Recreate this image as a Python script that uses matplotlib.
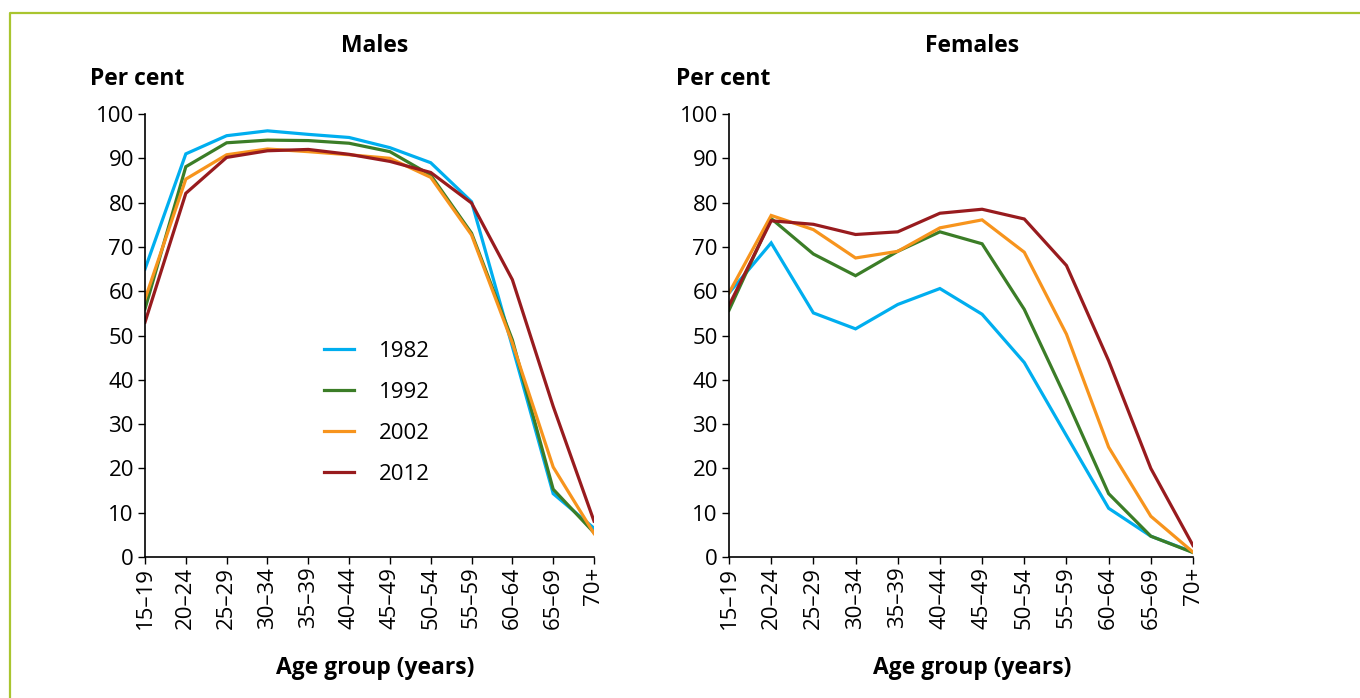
import matplotlib.pyplot as plt
from matplotlib.lines import Line2D

plt.rcParams['font.family'] = ['Open Sans', 'DejaVu Sans']

ages = ['15–19', '20–24', '25–29', '30–34', '35–39', '40–44',
        '45–49', '50–54', '55–59', '60–64', '65–69', '70+']
years = ['1982', '1992', '2002', '2012']
colours = ['#00aeef', '#3b7d27', '#f7941d', '#981b1e']

males_1982 = [65.0, 91.0, 95.1, 96.2, 95.4, 94.7, 92.4, 89.0, 80.2, 47.5, 14.3, 6.5]
males_1992 = [56.0, 88.1, 93.5, 94.1, 94.0, 93.4, 91.5, 86.2, 73.1, 49.0, 15.3, 5.5]
males_2002 = [58.2, 85.3, 90.8, 92.1, 91.5, 90.8, 90.0, 85.7, 72.7, 48.3, 20.3, 5.3]
males_2012 = [53.0, 82.1, 90.2, 91.7, 92.0, 90.9, 89.3, 86.8, 79.9, 62.6, 34.0, 8.1]

females_1982 = [59.6, 70.9, 55.1, 51.5, 57.0, 60.6, 54.8, 43.9, 27.4, 11.0, 4.7, 1.1]
females_1992 = [55.7, 76.4, 68.4, 63.5, 69.0, 73.4, 70.7, 55.9, 35.6, 14.3, 4.7, 1.0]
females_2002 = [59.6, 77.1, 73.9, 67.5, 69.0, 74.3, 76.1, 68.8, 50.3, 24.8, 9.2, 1.1]
females_2012 = [56.8, 75.9, 75.1, 72.8, 73.4, 77.6, 78.5, 76.3, 65.8, 44.3, 20.0, 2.6]

males = [males_1982, males_1992, males_2002, males_2012]
females = [females_1982, females_1992, females_2002, females_2012]

W, H = 1360, 698
fig = plt.figure(figsize=(W / 100, H / 100), dpi=100)

# lime frame along top and left edge
frame_col = '#a9c52f'
fig.add_artist(Line2D([9.5 / W, 9.5 / W, 1.0], [0.0, 1 - 12.5 / H, 1 - 12.5 / H],
                      transform=fig.transFigure, color=frame_col, lw=1.6))

TICK_FS = 16
BOLD_FS = 16.5


def setup(ax, series, title, cx):
    x = range(len(ages))
    for vals, col, yr in zip(series, colours, years):
        ax.plot(x, vals, color=col, lw=2.3, label=yr, solid_joinstyle='miter')
    ax.set_xlim(0, len(ages) - 1)
    ax.set_ylim(0, 100)
    ax.set_yticks(range(0, 101, 10))
    ax.set_xticks(list(x))
    ax.set_xticklabels(ages, rotation=90, fontsize=TICK_FS)
    ax.tick_params(axis='y', labelsize=TICK_FS, length=5, width=1, pad=3)
    ax.tick_params(axis='x', length=5, width=1, pad=2)
    for s in ['top', 'right']:
        ax.spines[s].set_visible(False)
    for s in ['left', 'bottom']:
        ax.spines[s].set_linewidth(1.2)
    fig.text(cx / W, 1 - 46 / H, title, ha='center', va='center',
             fontsize=BOLD_FS, fontweight='bold')
    fig.text(cx / W, 1 - 668 / H, 'Age group (years)', ha='center', va='center',
             fontsize=BOLD_FS, fontweight='bold')


ax1 = fig.add_axes([145 / W, 1 - 557 / H, (594 - 145) / W, (557 - 114) / H])
setup(ax1, males, 'Males', 375)
fig.text(90 / W, 1 - 79 / H, 'Per cent', ha='left', va='center',
         fontsize=BOLD_FS, fontweight='bold')
ax1.legend(loc='upper left', bbox_to_anchor=(0.355, 0.533), frameon=False,
           fontsize=TICK_FS, handlelength=1.35, labelspacing=0.9, handletextpad=1.1)

ax2 = fig.add_axes([729 / W, 1 - 557 / H, (1193 - 729) / W, (557 - 114) / H])
setup(ax2, females, 'Females', 972)
fig.text(676 / W, 1 - 79 / H, 'Per cent', ha='left', va='center',
         fontsize=BOLD_FS, fontweight='bold')

fig.savefig('out.png', dpi=100)
